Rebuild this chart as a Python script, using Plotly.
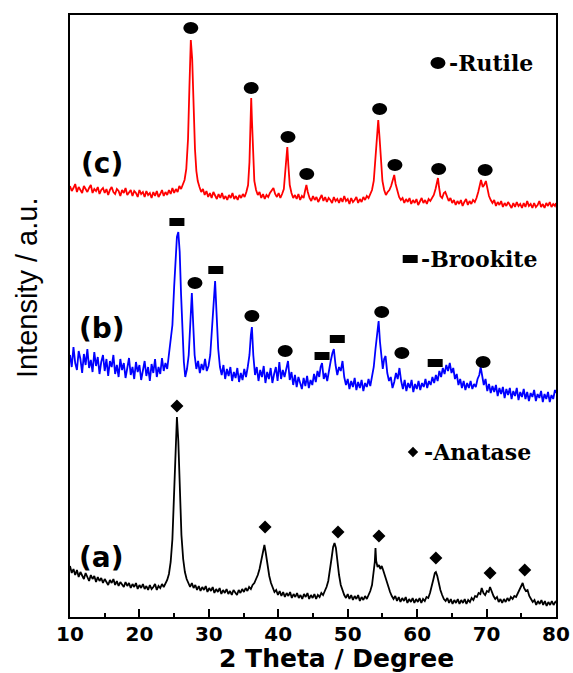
import plotly.graph_objects as go

# ---- XRD patterns (2 Theta in degree, intensity in a.u.) ----
# (c) red
c_x = [10.00, 10.25, 10.50, 10.75, 11.00, 11.25, 11.50, 11.75, 12.00, 12.25, 12.50, 12.75, 13.00, 13.25,
       13.50, 13.75, 14.00, 14.25, 14.50, 14.75, 15.00, 15.25, 15.50, 15.75, 16.00, 16.25, 16.50, 16.75,
       17.00, 17.25, 17.50, 17.75, 18.00, 18.25, 18.50, 18.75, 19.00, 19.25, 19.50, 19.75, 20.00, 20.25,
       20.50, 20.75, 21.00, 21.25, 21.50, 21.75, 22.00, 22.25, 22.50, 22.75, 23.00, 23.25, 23.50, 23.75,
       24.00, 24.25, 24.50, 24.75, 25.00, 25.25, 25.50, 25.75, 26.00, 26.25, 26.50, 26.75, 27.00, 27.20,
       27.40, 27.60, 27.80, 28.00, 28.20, 28.40, 28.65, 28.90, 29.15, 29.40, 29.65, 29.90, 30.15, 30.40,
       30.65, 30.90, 31.15, 31.40, 31.65, 31.90, 32.15, 32.40, 32.65, 32.90, 33.15, 33.40, 33.65, 33.90,
       34.15, 34.40, 34.65, 34.90, 35.15, 35.40, 35.65, 35.85, 36.00, 36.10, 36.20, 36.35, 36.55, 36.80,
       37.05, 37.30, 37.55, 37.80, 38.05, 38.30, 38.55, 38.80, 39.05, 39.30, 39.55, 39.80, 40.05, 40.30,
       40.55, 40.80, 41.00, 41.15, 41.30, 41.45, 41.65, 41.90, 42.15, 42.40, 42.65, 42.90, 43.15, 43.40,
       43.65, 43.85, 44.05, 44.25, 44.50, 44.75, 45.00, 45.25, 45.50, 45.75, 46.00, 46.25, 46.50, 46.75,
       47.00, 47.25, 47.50, 47.75, 48.00, 48.25, 48.50, 48.75, 49.00, 49.25, 49.50, 49.75, 50.00, 50.25,
       50.50, 50.75, 51.00, 51.25, 51.50, 51.75, 52.00, 52.25, 52.50, 52.75, 53.00, 53.25, 53.50, 53.75,
       54.00, 54.20, 54.40, 54.60, 54.80, 55.00, 55.25, 55.50, 55.75, 56.00, 56.25, 56.50, 56.70, 56.90,
       57.15, 57.40, 57.65, 57.90, 58.15, 58.40, 58.65, 58.90, 59.15, 59.40, 59.65, 59.90, 60.15, 60.40,
       60.65, 60.90, 61.15, 61.40, 61.65, 61.90, 62.15, 62.40, 62.65, 62.85, 63.00, 63.15, 63.35, 63.60,
       63.85, 64.05, 64.30, 64.55, 64.80, 65.05, 65.30, 65.55, 65.80, 66.05, 66.30, 66.55, 66.80, 67.05,
       67.30, 67.55, 67.80, 68.05, 68.30, 68.55, 68.80, 69.00, 69.20, 69.45, 69.65, 69.90, 70.10, 70.35,
       70.60, 70.85, 71.10, 71.35, 71.60, 71.85, 72.10, 72.35, 72.60, 72.85, 73.10, 73.35, 73.60, 73.85,
       74.10, 74.35, 74.60, 74.85, 75.10, 75.35, 75.60, 75.85, 76.10, 76.35, 76.60, 76.85, 77.10, 77.35,
       77.60, 77.85, 78.10, 78.35, 78.60, 78.85, 79.10, 79.35, 79.60, 79.85, 80.00]
c_y = [431, 426, 429, 433, 425, 430, 427, 424, 431, 428, 425, 429, 432, 424,
       428, 426, 430, 423, 427, 429, 424, 428, 422, 427, 430, 425, 423, 428,
       426, 421, 427, 424, 429, 422, 425, 427, 421, 426, 424, 420, 427, 423,
       425, 420, 426, 422, 424, 419, 425, 421, 426, 420, 423, 427, 421, 425,
       422, 427, 423, 429, 424, 428, 425, 431, 428, 433, 437, 448, 478, 530,
       577, 558, 508, 468, 446, 436, 430, 425, 428, 422, 426, 420, 424, 419,
       425, 421, 418, 423, 419, 424, 418, 421, 417, 422, 419, 424, 418, 421,
       417, 422, 419, 423, 420, 425, 432, 455, 500, 519, 498, 460, 436, 427,
       422, 425, 419, 423, 418, 422, 420, 424, 426, 429, 423, 420, 424, 419,
       423, 428, 445, 460, 470, 452, 432, 424, 419, 422, 418, 423, 417, 421,
       419, 426, 432, 425, 419, 416, 421, 417, 420, 415, 419, 422, 416, 420,
       415, 419, 417, 414, 420, 416, 418, 414, 419, 415, 421, 416, 418, 413,
       419, 415, 417, 420, 414, 418, 415, 420, 417, 421, 419, 423, 427, 436,
       460, 484, 497, 478, 452, 436, 427, 422, 425, 427, 431, 438, 442, 433,
       425, 420, 417, 419, 414, 418, 415, 419, 413, 417, 414, 418, 412, 416,
       419, 414, 417, 413, 418, 416, 419, 422, 428, 434, 439, 430, 421, 419,
       424, 425, 420, 416, 419, 414, 417, 412, 416, 413, 417, 411, 415, 418,
       412, 416, 413, 417, 415, 419, 425, 433, 437, 430, 432, 436, 428, 421,
       417, 414, 417, 411, 415, 412, 416, 410, 414, 411, 415, 412, 409, 414,
       410, 415, 411, 413, 409, 414, 410, 416, 411, 413, 409, 414, 410, 412,
       416, 410, 413, 409, 414, 411, 415, 410, 413, 411, 414]

# (b) blue
b_x = [10.00, 10.25, 10.50, 10.75, 11.00, 11.25, 11.50, 11.75, 12.00, 12.25, 12.50, 12.75, 13.00, 13.25,
       13.50, 13.75, 14.00, 14.25, 14.50, 14.75, 15.00, 15.25, 15.50, 15.75, 16.00, 16.25, 16.50, 16.75,
       17.00, 17.25, 17.50, 17.75, 18.00, 18.25, 18.50, 18.75, 19.00, 19.25, 19.50, 19.75, 20.00, 20.25,
       20.50, 20.75, 21.00, 21.25, 21.50, 21.75, 22.00, 22.25, 22.50, 22.75, 23.00, 23.25, 23.50, 23.75,
       24.00, 24.25, 24.50, 24.75, 25.00, 25.20, 25.40, 25.60, 25.80, 26.00, 26.20, 26.40, 26.60, 26.85,
       27.10, 27.35, 27.55, 27.75, 27.95, 28.20, 28.45, 28.70, 28.95, 29.20, 29.45, 29.70, 29.95, 30.20,
       30.45, 30.70, 30.90, 31.10, 31.35, 31.60, 31.85, 32.10, 32.35, 32.60, 32.85, 33.10, 33.35, 33.60,
       33.85, 34.10, 34.35, 34.60, 34.85, 35.10, 35.35, 35.60, 35.85, 36.05, 36.20, 36.40, 36.65, 36.90,
       37.15, 37.40, 37.65, 37.90, 38.15, 38.40, 38.65, 38.90, 39.15, 39.40, 39.65, 39.90, 40.15, 40.40,
       40.65, 40.90, 41.20, 41.40, 41.65, 41.90, 42.15, 42.40, 42.65, 42.90, 43.15, 43.40, 43.65, 43.90,
       44.15, 44.40, 44.65, 44.90, 45.15, 45.40, 45.65, 45.90, 46.10, 46.30, 46.55, 46.80, 47.05, 47.30,
       47.55, 47.80, 48.00, 48.25, 48.50, 48.75, 49.00, 49.25, 49.50, 49.75, 50.00, 50.25, 50.50, 50.75,
       51.00, 51.25, 51.50, 51.75, 52.00, 52.25, 52.50, 52.75, 53.00, 53.25, 53.50, 53.75, 54.00, 54.25,
       54.45, 54.65, 54.85, 55.05, 55.25, 55.45, 55.70, 55.95, 56.20, 56.45, 56.70, 56.95, 57.20, 57.45,
       57.70, 57.95, 58.20, 58.45, 58.70, 58.95, 59.20, 59.45, 59.70, 59.95, 60.20, 60.45, 60.70, 60.95,
       61.20, 61.45, 61.70, 61.95, 62.20, 62.45, 62.70, 62.95, 63.20, 63.45, 63.70, 63.95, 64.20, 64.45,
       64.70, 64.95, 65.20, 65.45, 65.70, 65.95, 66.20, 66.45, 66.70, 66.95, 67.20, 67.45, 67.70, 67.95,
       68.20, 68.45, 68.70, 68.95, 69.15, 69.35, 69.60, 69.85, 70.10, 70.35, 70.60, 70.85, 71.10, 71.35,
       71.60, 71.85, 72.10, 72.35, 72.60, 72.85, 73.10, 73.35, 73.60, 73.85, 74.10, 74.35, 74.60, 74.85,
       75.10, 75.35, 75.60, 75.85, 76.10, 76.35, 76.60, 76.85, 77.10, 77.35, 77.60, 77.85, 78.10, 78.35,
       78.60, 78.85, 79.10, 79.35, 79.60, 79.85, 80.00]
b_y = [262, 250, 270, 254, 247, 266, 258, 244, 263, 252, 268, 249, 257, 245,
       265, 251, 260, 243, 255, 262, 246, 258, 241, 256, 250, 262, 243, 252,
       240, 258, 247, 254, 239, 251, 259, 242, 250, 238, 255, 245, 252, 237,
       249, 256, 241, 250, 236, 253, 244, 258, 240, 250, 243, 259, 246, 254,
       248, 262, 272, 292, 330, 362, 380, 385, 365, 322, 282, 255, 240, 248,
       262, 290, 324, 292, 262, 248, 256, 244, 253, 247, 258, 246, 251, 262,
       290, 325, 336, 305, 268, 250, 242, 252, 238, 248, 241, 250, 236, 245,
       239, 249, 235, 244, 237, 248, 240, 250, 262, 282, 290, 262, 242, 250,
       236, 247, 240, 251, 234, 245, 238, 249, 234, 243, 250, 236, 255, 238,
       247, 240, 249, 256, 237, 245, 232, 242, 230, 240, 234, 228, 239, 231,
       241, 229, 237, 232, 243, 235, 246, 240, 250, 254, 238, 244, 236, 248,
       256, 264, 268, 252, 242, 250, 246, 256, 240, 232, 238, 228, 236, 230,
       239, 227, 235, 229, 237, 226, 234, 230, 238, 231, 240, 250, 268, 285,
       296, 275, 258, 248, 258, 261, 244, 236, 240, 229, 235, 244, 238, 249,
       236, 228, 237, 226, 234, 229, 237, 225, 233, 228, 236, 227, 234, 230,
       238, 229, 236, 232, 240, 234, 242, 236, 246, 240, 249, 243, 252, 246,
       254, 244, 249, 238, 243, 232, 238, 229, 236, 227, 234, 229, 236, 228,
       233, 230, 238, 242, 250, 240, 232, 238, 226, 233, 224, 231, 225, 232,
       221, 229, 223, 230, 219, 228, 222, 229, 218, 226, 221, 229, 217, 225,
       220, 228, 218, 225, 216, 224, 220, 227, 216, 223, 219, 226, 215, 223,
       218, 225, 215, 222, 218, 227, 224]

# (a) black
a_x = [10.00, 10.25, 10.50, 10.75, 11.00, 11.25, 11.50, 11.75, 12.00, 12.25, 12.50, 12.75, 13.00, 13.25,
       13.50, 13.75, 14.00, 14.25, 14.50, 14.75, 15.00, 15.25, 15.50, 15.75, 16.00, 16.25, 16.50, 16.75,
       17.00, 17.25, 17.50, 17.75, 18.00, 18.25, 18.50, 18.75, 19.00, 19.25, 19.50, 19.75, 20.00, 20.25,
       20.50, 20.75, 21.00, 21.25, 21.50, 21.75, 22.00, 22.25, 22.50, 22.75, 23.00, 23.25, 23.50, 23.75,
       24.00, 24.25, 24.50, 24.75, 25.00, 25.20, 25.40, 25.60, 25.80, 26.05, 26.30, 26.55, 26.80, 27.05,
       27.30, 27.55, 27.80, 28.05, 28.30, 28.55, 28.80, 29.05, 29.30, 29.55, 29.80, 30.05, 30.30, 30.55,
       30.80, 31.05, 31.30, 31.55, 31.80, 32.05, 32.30, 32.55, 32.80, 33.05, 33.30, 33.55, 33.80, 34.05,
       34.30, 34.55, 34.80, 35.05, 35.30, 35.55, 35.80, 36.05, 36.30, 36.55, 36.80, 37.05, 37.30, 37.55,
       37.80, 38.00, 38.20, 38.45, 38.70, 38.95, 39.20, 39.45, 39.70, 39.95, 40.20, 40.45, 40.70, 40.95,
       41.20, 41.45, 41.70, 41.95, 42.20, 42.45, 42.70, 42.95, 43.20, 43.45, 43.70, 43.95, 44.20, 44.45,
       44.70, 44.95, 45.20, 45.45, 45.70, 45.95, 46.20, 46.45, 46.70, 46.95, 47.20, 47.45, 47.70, 47.90,
       48.10, 48.30, 48.50, 48.75, 49.00, 49.25, 49.50, 49.75, 50.00, 50.25, 50.50, 50.75, 51.00, 51.25,
       51.50, 51.75, 52.00, 52.25, 52.50, 52.75, 53.00, 53.25, 53.50, 53.70, 53.90, 54.00, 54.10, 54.30,
       54.50, 54.70, 54.90, 55.10, 55.35, 55.60, 55.85, 56.10, 56.35, 56.60, 56.85, 57.10, 57.35, 57.60,
       57.85, 58.10, 58.35, 58.60, 58.85, 59.10, 59.35, 59.60, 59.85, 60.10, 60.35, 60.60, 60.85, 61.10,
       61.35, 61.60, 61.85, 62.10, 62.35, 62.55, 62.70, 62.90, 63.10, 63.35, 63.60, 63.85, 64.10, 64.35,
       64.60, 64.85, 65.10, 65.35, 65.60, 65.85, 66.10, 66.35, 66.60, 66.85, 67.10, 67.35, 67.60, 67.85,
       68.10, 68.35, 68.60, 68.85, 69.10, 69.30, 69.55, 69.80, 70.05, 70.30, 70.50, 70.75, 71.00, 71.25,
       71.50, 71.75, 72.00, 72.25, 72.50, 72.75, 73.00, 73.25, 73.50, 73.75, 74.00, 74.25, 74.50, 74.75,
       75.00, 75.20, 75.40, 75.65, 75.90, 76.15, 76.40, 76.65, 76.90, 77.15, 77.40, 77.65, 77.90, 78.15,
       78.40, 78.65, 78.90, 79.15, 79.40, 79.65, 79.90, 80.00]
a_y = [51, 44, 48, 42, 47, 40, 45, 42, 38, 44, 40, 36, 42, 38,
       41, 35, 40, 36, 39, 34, 38, 35, 32, 37, 34, 38, 32, 36,
       31, 35, 33, 30, 35, 31, 34, 29, 33, 30, 34, 28, 32, 29,
       33, 28, 31, 27, 32, 28, 30, 33, 27, 31, 29, 33, 30, 34,
       37, 43, 55, 78, 120, 168, 200, 176, 128, 82, 58, 45, 38, 34,
       30, 34, 29, 32, 27, 31, 26, 30, 27, 31, 25, 29, 26, 30,
       24, 28, 25, 29, 23, 27, 24, 28, 23, 26, 22, 27, 24, 22,
       27, 24, 28, 25, 29, 26, 30, 28, 32, 34, 38, 42, 48, 58,
       68, 72, 64, 52, 41, 34, 29, 25, 27, 22, 26, 21, 25, 20,
       24, 21, 25, 19, 23, 20, 24, 19, 22, 18, 23, 20, 24, 18,
       22, 19, 23, 18, 22, 20, 24, 22, 26, 30, 36, 46, 60, 70,
       74, 69, 56, 42, 32, 26, 22, 19, 23, 18, 22, 17, 21, 18,
       22, 16, 20, 17, 21, 18, 22, 26, 32, 42, 55, 69, 56, 50,
       52, 48, 51, 47, 41, 35, 29, 25, 21, 18, 21, 16, 20, 15,
       19, 16, 20, 14, 18, 15, 19, 14, 18, 15, 19, 14, 18, 16,
       20, 19, 24, 30, 38, 44, 45, 41, 34, 27, 22, 18, 16, 19,
       14, 18, 13, 17, 14, 18, 13, 17, 14, 18, 13, 17, 15, 19,
       17, 21, 20, 24, 23, 29, 24, 22, 26, 25, 30, 25, 21, 18,
       20, 15, 18, 14, 18, 15, 19, 16, 20, 18, 21, 20, 24, 27,
       31, 34, 29, 26, 27, 21, 18, 15, 17, 12, 16, 13, 17, 12,
       16, 11, 15, 12, 16, 12, 15, 14]

# ---- phase marks (2 Theta, height) ----
rutile_c_x = [27.4, 36.1, 41.4, 44.1, 54.6, 56.8, 63.1, 69.8]
rutile_c_y = [589, 529, 480, 443, 508, 452, 448, 447]
brookite_b_x = [25.4, 31.0, 46.3, 48.5, 62.6]
brookite_b_y = [395, 347, 261, 278, 254]
rutile_b_x = [28.0, 36.2, 41.0, 54.9, 57.8, 69.5]
rutile_b_y = [334, 301, 266, 305, 264, 255]
anatase_a_x = [25.4, 38.1, 48.6, 54.5, 62.7, 70.5, 75.5]
anatase_a_y = [211, 90, 85, 81, 59, 44, 47]

# key symbols and names
key_names = ["-Rutile", "-Brookite", "-Anatase"]
key_x = [63.0, 59.0, 59.4]
key_y = [554, 358, 165]
sample_labels = ["(c)", "(b)", "(a)"]
sample_label_y = [454, 289, 60]
x_ticks = [10, 20, 30, 40, 50, 60, 70, 80]

fig = go.Figure()
fig.add_trace(go.Scatter(x=a_x, y=a_y, mode="lines", line=dict(color="black", width=1.8)))
fig.add_trace(go.Scatter(x=b_x, y=b_y, mode="lines", line=dict(color="blue", width=1.8)))
fig.add_trace(go.Scatter(x=c_x, y=c_y, mode="lines", line=dict(color="red", width=1.8)))

# anatase diamonds
fig.add_trace(go.Scatter(x=anatase_a_x, y=anatase_a_y, mode="markers",
                         marker=dict(symbol="diamond", size=10, color="black")))
fig.add_trace(go.Scatter(x=[key_x[2]], y=[key_y[2]], mode="markers",
                         marker=dict(symbol="diamond", size=8, color="black")))

shapes = []
def ellipse(x, y):
    shapes.append(dict(type="circle", xref="x", yref="y", xsizemode="pixel", ysizemode="pixel",
                       xanchor=x, yanchor=y, x0=-7.5, x1=7.5, y0=-6, y1=6,
                       fillcolor="black", line=dict(width=0)))
def bar(x, y):
    shapes.append(dict(type="rect", xref="x", yref="y", xsizemode="pixel", ysizemode="pixel",
                       xanchor=x, yanchor=y, x0=-7.5, x1=7.5, y0=-4, y1=4,
                       fillcolor="black", line=dict(width=0)))

for x, y in zip(rutile_c_x, rutile_c_y):
    ellipse(x, y)
for x, y in zip(rutile_b_x, rutile_b_y):
    ellipse(x, y)
for x, y in zip(brookite_b_x, brookite_b_y):
    bar(x, y)
ellipse(key_x[0], key_y[0])
bar(key_x[1], key_y[1])

annotations = []
for name, kx, ky in zip(key_names, key_x, key_y):
    annotations.append(dict(x=kx, y=ky, xref="x", yref="y", text=name, showarrow=False,
                            xanchor="left", yanchor="middle", xshift=9,
                            font=dict(family="DejaVu Serif", size=22, color="black", weight="bold")))
for lab, ly in zip(sample_labels, sample_label_y):
    annotations.append(dict(x=14.6, y=ly, xref="x", yref="y", text=lab, showarrow=False,
                            xanchor="center", yanchor="middle",
                            font=dict(family="DejaVu Sans", size=28, color="black", weight="bold")))
annotations.append(dict(x=-0.0885, y=0.548, xref="paper", yref="paper", text="Intensity / a.u.",
                        showarrow=False, textangle=-90, xanchor="center", yanchor="middle",
                        font=dict(family="Liberation Sans", size=29, color="black")))
annotations.append(dict(x=0.548, y=-0.069, xref="paper", yref="paper", text="2 Theta / Degree",
                        showarrow=False, xanchor="center", yanchor="middle",
                        font=dict(family="DejaVu Sans", size=25, color="black", weight="bold")))

fig.update_layout(
    width=573, height=673,
    margin=dict(l=70, r=17, t=15, b=56),
    plot_bgcolor="white", paper_bgcolor="white",
    showlegend=False,
    shapes=shapes, annotations=annotations,
    xaxis=dict(range=[10, 80], tickvals=x_ticks, ticks="inside", ticklen=8, tickwidth=2,
               tickcolor="black", showline=True, linewidth=2, linecolor="black", mirror=True,
               showgrid=False, zeroline=False, automargin=False, ticklabelstandoff=-2,
               minor=dict(dtick=5, ticks="inside", ticklen=4, tickwidth=2, tickcolor="black"),
               tickfont=dict(family="DejaVu Sans", size=20, color="black", weight="bold")),
    yaxis=dict(range=[0, 602], showticklabels=False, ticks="", showline=True, linewidth=2,
               linecolor="black", mirror=True, showgrid=False, zeroline=False, automargin=False),
)

fig.write_html("out.html", config={"displayModeBar": False},
               post_script="document.body.style.margin='0px';document.body.style.overflow='hidden';")
